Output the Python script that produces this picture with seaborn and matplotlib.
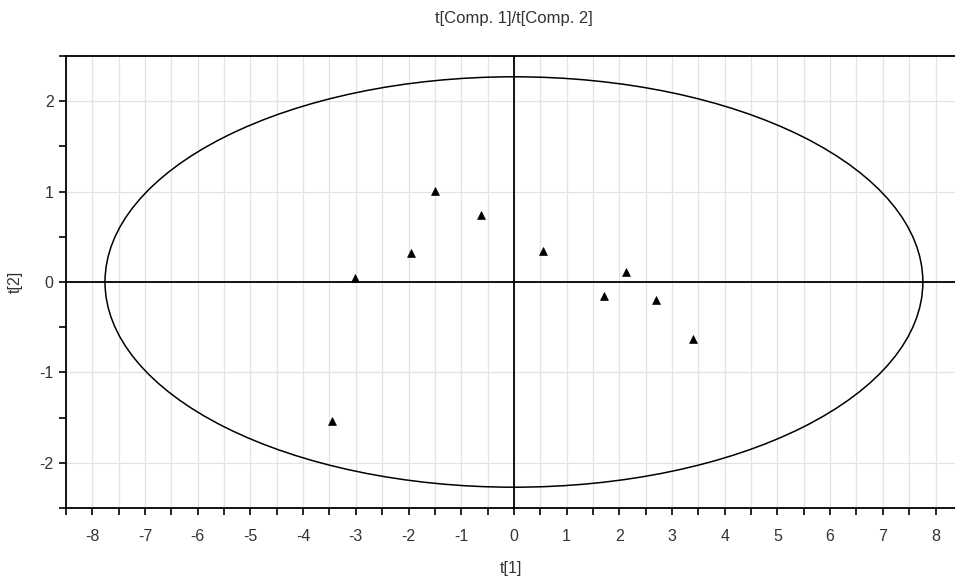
import matplotlib
matplotlib.use("Agg")
import matplotlib.pyplot as plt
from matplotlib.patches import Ellipse
from matplotlib.ticker import MultipleLocator
import seaborn as sns
import pandas as pd

# scores
t1 = [-3.45, -3.01, -1.95, -1.49, -0.62, 0.55, 2.13, 1.70, 2.69, 3.40]
t2 = [-1.54, 0.04, 0.32, 1.01, 0.74, 0.34, 0.11, -0.15, -0.20, -0.63]

# Hotelling ellipse half-axes
ell_w = 7.76
ell_h = 2.27

x_ticks = list(range(-8, 9))
y_ticks = [-2, -1, 0, 1, 2]

df = pd.DataFrame({"t[1]": t1, "t[2]": t2})

sns.set_style("white")
plt.rcParams['font.family'] = ['Liberation Sans', 'DejaVu Sans']
plt.rcParams['axes.unicode_minus'] = False

fig = plt.figure(figsize=(9.55, 5.81), dpi=100)
ax = fig.add_axes([66 / 955, 1 - 508 / 581, 1 - 66 / 955, (508 - 56) / 581])

ax.set_xlim(-8.5, 8.37)
ax.set_ylim(-2.5, 2.5)

ax.xaxis.set_major_locator(MultipleLocator(1))
ax.xaxis.set_minor_locator(MultipleLocator(0.5))
ax.yaxis.set_major_locator(MultipleLocator(1))
ax.yaxis.set_minor_locator(MultipleLocator(0.5))
ax.set_xticks(x_ticks)
ax.set_yticks(y_ticks)

ax.grid(True, which="major", axis="y", color="#e3e3e3", lw=0.9)
ax.grid(True, which="both", axis="x", color="#e3e3e3", lw=0.9)
ax.set_axisbelow(True)

ax.axhline(0, color="black", lw=1.3, zorder=2)
ax.axvline(0, color="black", lw=1.3, zorder=2)

ax.add_patch(Ellipse((0, 0), 2 * ell_w, 2 * ell_h, fill=False,
                     edgecolor="black", lw=1.1, zorder=3))

sns.scatterplot(data=df, x="t[1]", y="t[2]", marker="^", color="black",
                s=32, edgecolor="black", linewidth=0.5, ax=ax, zorder=4)

ax.spines["right"].set_visible(False)
for side in ["left", "bottom", "top"]:
    ax.spines[side].set_color("black")
    ax.spines[side].set_linewidth(1.3)

ax.tick_params(axis="both", which="both", direction="out", length=5,
               width=1.2, color="black", labelsize=11.5, labelcolor="#333333",
               bottom=True, left=True, top=False, right=False)
ax.tick_params(axis="x", which="major", pad=10)
ax.tick_params(axis="y", which="major", pad=4)

ax.set_xlabel("t[1]", fontsize=11.5, color="#333333", labelpad=12)
ax.set_ylabel("t[2]", fontsize=11.5, color="#333333", labelpad=12)
fig.text(514 / 955, 1 - 18 / 581, "t[Comp. 1]/t[Comp. 2]", ha="center",
         va="center", fontsize=12, color="#333333")

fig.savefig("out.png", dpi=100)
